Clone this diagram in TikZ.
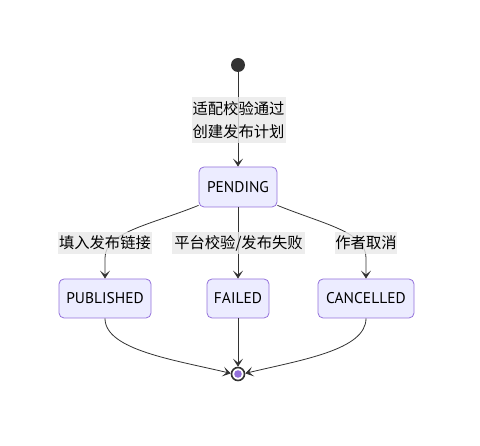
\documentclass[tikz,border=0pt]{standalone}
\usepackage{fontspec}
\setmainfont{PT Sans}
\newfontfamily\cjk{Noto Sans CJK SC}
\usetikzlibrary{arrows.meta}
\definecolor{boxfill}{HTML}{ECECFF}
\definecolor{boxline}{HTML}{9370DB}
\definecolor{ink}{HTML}{333333}
\definecolor{lblbg}{HTML}{E8E8E8}
\begin{document}
\begin{tikzpicture}[x=1pt,y=-1pt,
  statebox/.style={draw=boxline,fill=boxfill,rounded corners=5pt,line width=0.8pt,minimum height=40pt,inner sep=0pt,font=\fontsize{15.5}{18}\selectfont},
  edgelbl/.style={fill=lblbg,fill opacity=0.8,text opacity=1,inner sep=0pt,font=\cjk\fontsize{15.3}{23}\selectfont,align=center},
  edge/.style={draw=ink,line width=0.8pt,-{Stealth[length=8pt,width=10pt,inset=4pt]}}]
\useasboundingbox (0,0) rectangle (480,446);
\node[circle,fill=ink,minimum size=14pt,inner sep=0pt] (S) at (238,65) {};
\node[statebox,minimum width=78pt] (P) at (238,187) {PENDING};
\node[statebox,minimum width=92pt,minimum height=39pt] (PU) at (105,298.5) {PUBLISHED};
\node[statebox,minimum width=62pt,minimum height=39pt] (F) at (238,298.5) {FAILED};
\node[statebox,minimum width=96pt,minimum height=39pt] (C) at (366,298.5) {CANCELLED};
\node[circle,draw=ink,line width=1.6pt,fill=white,minimum size=13pt,inner sep=0pt] (E) at (238,374) {};
\fill[boxline] (E.center) circle (3.8pt);
% edges
\draw[edge] (S) -- (P);
\draw[edge] (P.205) .. controls (150,225) and (105,232) .. (105,258) -- (PU.north);
\draw[edge] (P) -- (F);
\draw[edge] (P.335) .. controls (326,225) and (366,232) .. (366,258) -- (C.north);
\draw[edge] (PU.south) .. controls (105,350) and (175,360) .. (E.175);
\draw[edge] (F) -- (E);
\draw[edge] (C.south) .. controls (366,350) and (301,360) .. (E.5);
% labels
\node[edgelbl,minimum width=94pt,minimum height=46pt] (L1) at (238.5,120) {适配校验通过\\创建发布计划};
\node[edgelbl,minimum width=94pt,minimum height=22pt] (L2) at (105,243) {填入发布链接};
\node[edgelbl,minimum width=133pt,minimum height=22pt] (L3) at (238.5,243) {平台校验/发布失败};
\node[edgelbl,minimum width=62pt,minimum height=22pt] (L4) at (366,243) {作者取消};
\end{tikzpicture}
\end{document}
